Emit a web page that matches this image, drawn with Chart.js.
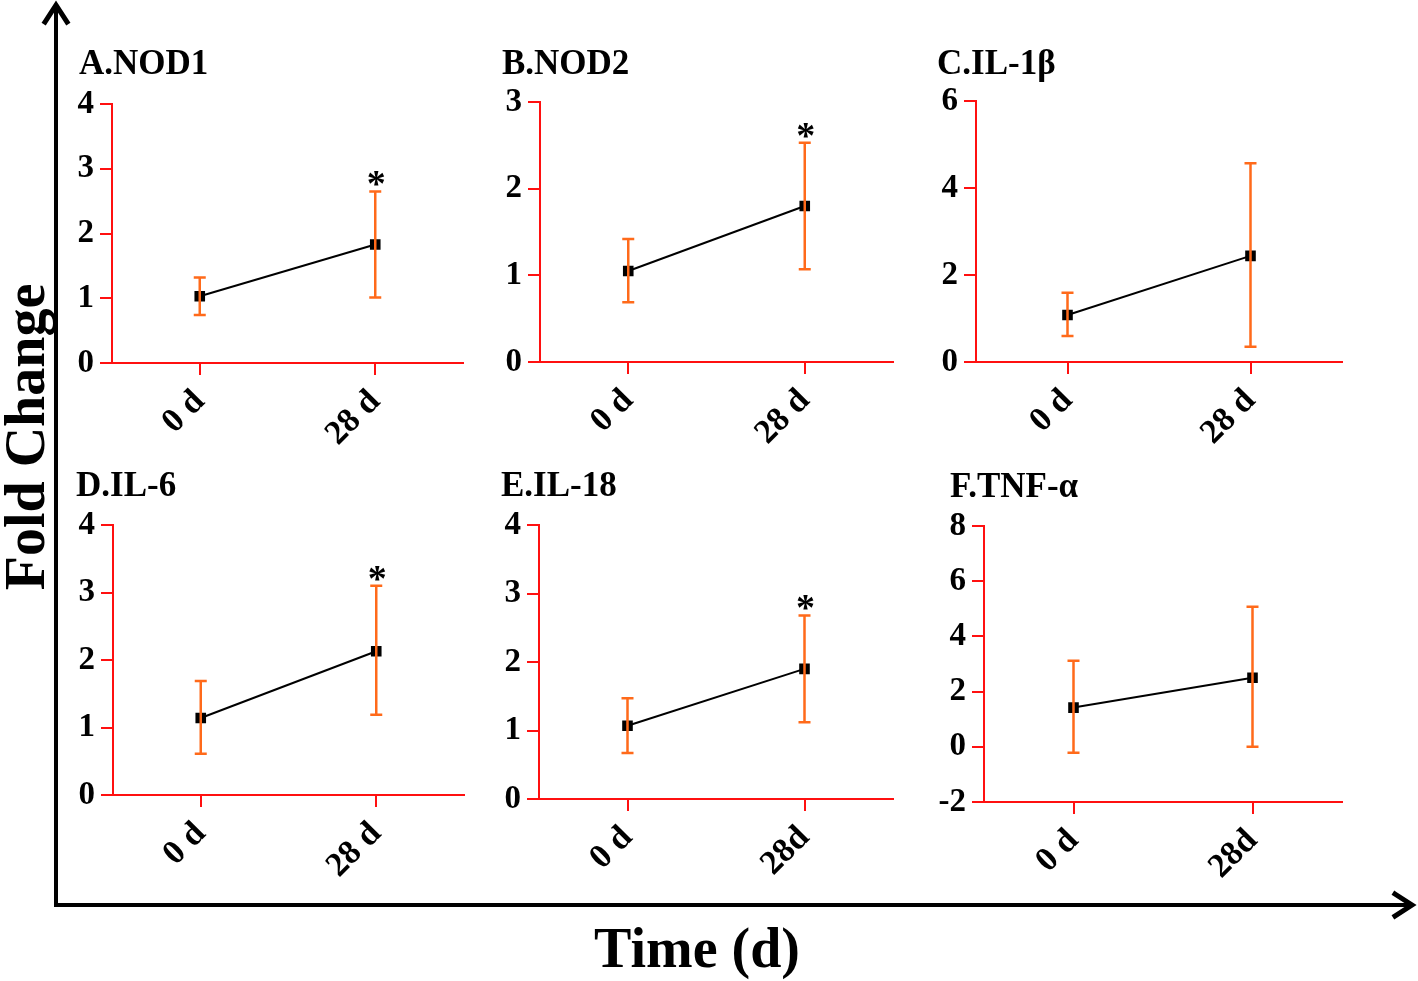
<!DOCTYPE html>
<html>
<head>
<meta charset="utf-8">
<script src="https://cdn.jsdelivr.net/npm/chart.js@4.4.1/dist/chart.umd.min.js"></script>
<style>
  body { margin: 0; background: #fff; width: 1418px; height: 981px; overflow: hidden; position: relative;
         font-family: "Liberation Serif", "Times New Roman", serif; }
  .panel { position: absolute; }
  .title { position: absolute; font-weight: bold; font-size: 35px; line-height: 34px; white-space: nowrap; color: #000; }
  .axis-title { position: absolute; font-weight: bold; font-size: 56px; line-height: 56px; white-space: pre; color: #000; }
  svg { position: absolute; left: 0; top: 0; }
</style>
</head>
<body>
<svg width="1418" height="981">
  <g stroke="#000" stroke-width="4" fill="none" stroke-linecap="square">
    <line x1="56" y1="905" x2="56" y2="6"/>
    <line x1="56" y1="905" x2="1410" y2="905"/>
    <polyline points="45,22 56,5 67,22" stroke-width="5"/>
    <polyline points="1395,894 1412,905 1395,916" stroke-width="5"/>
  </g>
</svg>
<div class="axis-title" id="ytitle">Fold Change</div>
<div class="axis-title" id="xtitle">Time (d)</div>
<script>
const titles = ['A.NOD1', 'B.NOD2', 'C.IL-1β', 'D.IL-6', 'E.IL-18', 'F.TNF-α'];
const xLabels = [
    ['0 d', '28 d'],
    ['0 d', '28 d'],
    ['0 d', '28 d'],
    ['0 d', '28 d'],
    ['0 d', '28d'],
    ['0 d', '28d'],
];
// mean fold change at 0 d and 28 d
const means = [
    [1.03, 1.83],
    [1.05, 1.80],
    [1.08, 2.44],
    [1.14, 2.13],
    [1.07, 1.90],
    [1.42, 2.50],
];
const upper = [
    [1.32, 2.65],
    [1.42, 2.53],
    [1.59, 4.57],
    [1.69, 3.10],
    [1.47, 2.68],
    [3.12, 5.07],
];
const lower = [
    [0.74, 1.01],
    [0.69, 1.07],
    [0.60, 0.35],
    [0.61, 1.19],
    [0.67, 1.12],
    [-0.22, 0.00],
];
const stars = [
    [false, true],
    [false, true],
    [false, false],
    [false, true],
    [false, true],
    [false, false],
];
const yMin = [0, 0, 0, 0, 0, -2];
const yMax = [4, 3, 6, 4, 4, 8];
const yStep = [1, 1, 2, 1, 1, 2];

// layout: plot area of each panel on the page (left, top, right, bottom) and title spot
const areas = [
    [112, 104, 463, 363],
    [540, 102, 893, 362],
    [976, 101, 1342, 362],
    [113, 525, 464, 795],
    [539, 525, 893, 799],
    [984, 526, 1342, 802],
];
const titlePos = [[79, 46], [502, 46], [937, 46], [76, 468], [501, 468], [950, 469]];

const RED = '#ff1010';
const ORANGE = '#ff6a1a';
const FONT = '"Liberation Serif", "Times New Roman", serif';
const YW = 70, PT = 30, PR = 20, XH = 110;

const errorBars = {
    id: 'errorBars',
    afterDatasetsDraw(chart, args, opts) {
        const i = opts.panel;
        const { ctx } = chart;
        const x = chart.scales.x, y = chart.scales.y;
        ctx.save();
        ctx.strokeStyle = ORANGE;
        ctx.lineWidth = 2.5;
        means[i].forEach((m, j) => {
            const px = x.getPixelForValue(j);
            const top = y.getPixelForValue(upper[i][j]);
            const bot = y.getPixelForValue(lower[i][j]);
            ctx.beginPath();
            ctx.moveTo(px, top); ctx.lineTo(px, bot);
            ctx.moveTo(px - 6, top); ctx.lineTo(px + 6, top);
            ctx.moveTo(px - 6, bot); ctx.lineTo(px + 6, bot);
            ctx.stroke();
            if (stars[i][j]) {
                ctx.fillStyle = '#000';
                ctx.font = 'bold 38px ' + FONT;
                ctx.textAlign = 'center';
                ctx.textBaseline = 'alphabetic';
                ctx.fillText('*', px + 1, top + 5);
            }
        });
        ctx.restore();
    }
};

titles.forEach((t, i) => {
    const [l, tp, r, b] = areas[i];
    const box = document.createElement('div');
    box.className = 'panel';
    box.style.left = (l - YW) + 'px';
    box.style.top = (tp - PT) + 'px';
    box.style.width = (r - l + YW + PR) + 'px';
    box.style.height = (b - tp + PT + XH) + 'px';
    const canvas = document.createElement('canvas');
    box.appendChild(canvas);
    document.body.appendChild(box);

    const title = document.createElement('div');
    title.className = 'title';
    title.textContent = t;
    title.style.left = titlePos[i][0] + 'px';
    title.style.top = titlePos[i][1] + 'px';
    document.body.appendChild(title);

    new Chart(canvas, {
        type: 'line',
        data: {
            labels: xLabels[i],
            datasets: [{
                data: means[i],
                borderColor: '#000',
                borderWidth: 2,
                pointStyle: 'rect',
                pointRadius: 7.5,
                pointBackgroundColor: '#000',
                pointBorderWidth: 0,
                tension: 0,
            }]
        },
        plugins: [errorBars],
        options: {
            responsive: true,
            maintainAspectRatio: false,
            animation: false,
            layout: { padding: { top: PT, right: PR, left: 0, bottom: 0 } },
            plugins: {
                legend: { display: false },
                tooltip: { enabled: false },
                errorBars: { panel: i },
            },
            scales: {
                x: {
                    offset: true,
                    afterFit(scale) { scale.height = XH; },
                    grid: { offset: false, drawOnChartArea: false, color: RED, tickLength: 12, lineWidth: 2 },
                    border: { color: RED, width: 2 },
                    ticks: {
                        color: '#000', maxRotation: 45, minRotation: 45, autoSkip: false, padding: 7,
                        font: { family: FONT, size: 34, weight: 'bold' }
                    }
                },
                y: {
                    min: yMin[i],
                    max: yMax[i],
                    afterFit(scale) { scale.width = YW; },
                    grid: { drawOnChartArea: false, color: RED, tickLength: 12, lineWidth: 2 },
                    border: { color: RED, width: 2 },
                    ticks: {
                        stepSize: yStep[i], color: '#000', padding: 6,
                        font: { family: FONT, size: 33, weight: 'bold' }
                    }
                }
            }
        }
    });
});

const yt = document.getElementById('ytitle');
yt.style.left = '25px';
yt.style.top = '437px';
yt.style.transform = 'translate(-50%, -50%) rotate(-90deg)';
const xt = document.getElementById('xtitle');
xt.style.left = '697px';
xt.style.top = '948px';
xt.style.transform = 'translate(-50%, -50%)';
</script>
</body>
</html>
